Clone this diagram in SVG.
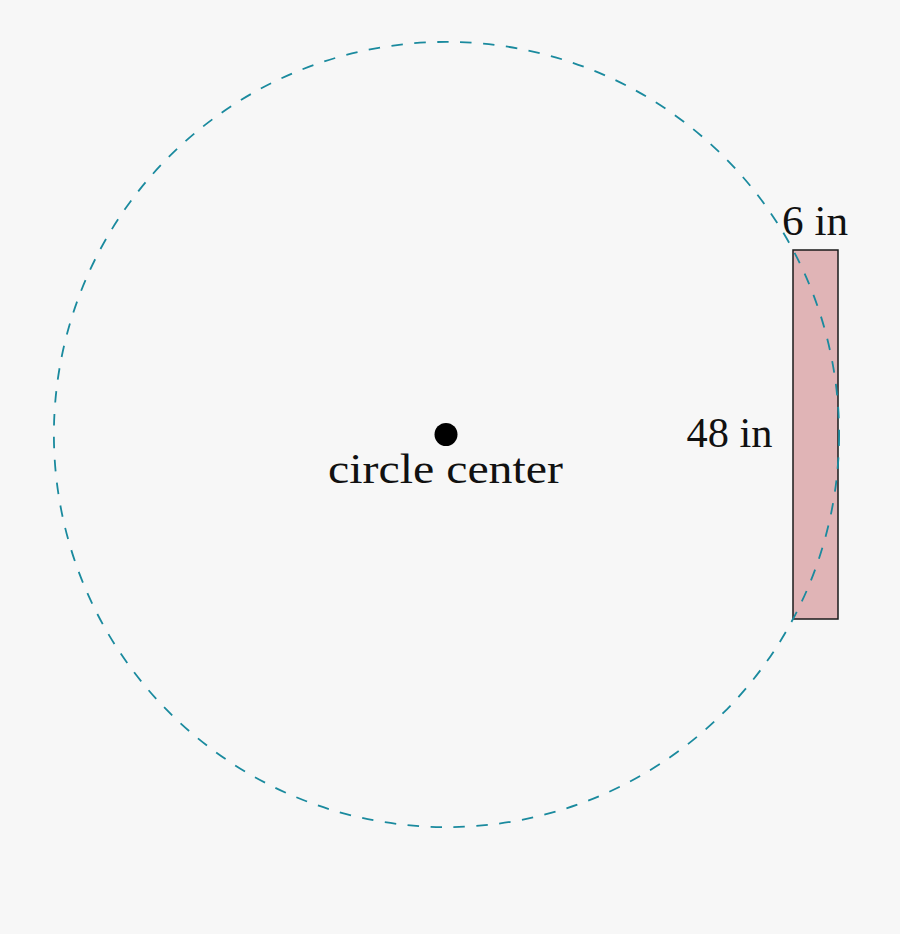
<svg xmlns="http://www.w3.org/2000/svg" width="900" height="934" viewBox="0 0 900 934">
<style>
.t{font-family:"Liberation Serif","DejaVu Serif",serif;font-size:42px;fill:#111}
</style>
<rect width="900" height="934" fill="#f7f7f7"/>
<g id="plank">
<rect x="793" y="250" width="45" height="369" fill="#e0b4b6" stroke="#1a1a1a" stroke-width="1.5"/>
</g>
<g id="connectors">
<circle cx="446.5" cy="434.5" r="392.6" fill="none" stroke="#1a8a9e" stroke-width="1.8" stroke-dasharray="11.5 11.5"/>
</g>
<g id="center">
<circle cx="446" cy="434.5" r="11.5" fill="#000"/>
<text class="t" x="445.5" y="483" text-anchor="middle" textLength="235" lengthAdjust="spacingAndGlyphs">circle center</text>
</g>
<g id="labels">
<text class="t" x="815" y="235" text-anchor="middle" textLength="66" lengthAdjust="spacingAndGlyphs">6 in</text>
<text class="t" x="729.5" y="447" text-anchor="middle" textLength="86" lengthAdjust="spacingAndGlyphs">48 in</text>
</g>
</svg>
